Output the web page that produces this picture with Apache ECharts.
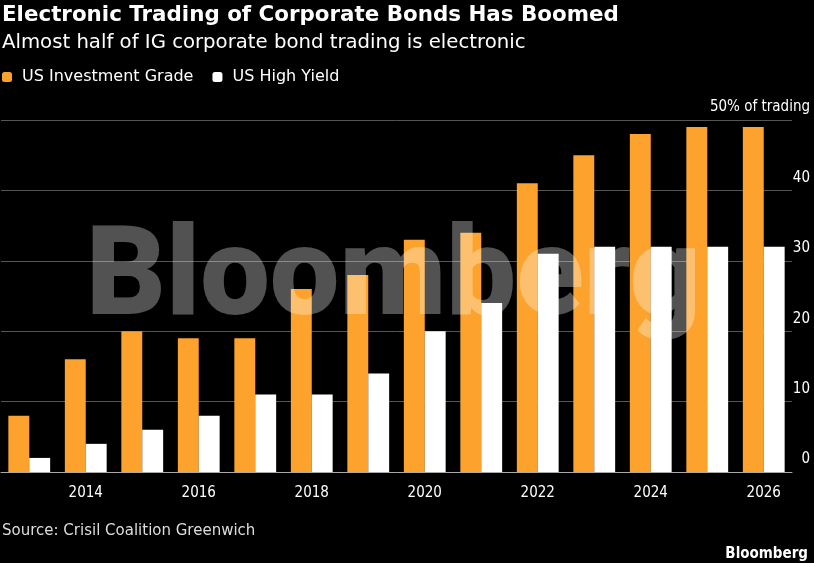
<!DOCTYPE html>
<html>
<head>
<meta charset="utf-8">
<script src="https://cdn.jsdelivr.net/npm/echarts@6/dist/echarts.min.js"></script>
<style>
  html, body { margin: 0; padding: 0; background: #000; }
  #chart { width: 814px; height: 563px; }
</style>
</head>
<body>
<div id="chart"></div>
<script>
// years on the x axis
const years = ['2013', '2014', '2015', '2016', '2017', '2018', '2019', '2020', '2021', '2022', '2023', '2024', '2025', '2026']
// share of trading that is electronic, %
const igData = [8, 16, 20, 19, 19, 26, 28, 33, 34, 41, 45, 48, 49, 49]
const hyData = [2, 4, 6, 8, 11, 11, 14, 20, 24, 31, 32, 32, 32, 32]
const yTicks = [0, 10, 20, 30, 40, 50]

const FONT = '"DejaVu Sans", "Noto Sans", sans-serif'
const FONT_NARROW = '"DejaVu Sans Condensed", "DejaVu Sans", sans-serif'
const chart = echarts.init(document.getElementById('chart'))

const option = {
  backgroundColor: '#000',
  animation: false,
  textStyle: { fontFamily: FONT },
  title: [
    {
      text: 'Electronic Trading of Corporate Bonds Has Boomed',
      left: 2, top: 5, padding: 0,
      textStyle: { color: '#fff', fontSize: 21.4, fontWeight: 'bold', fontFamily: FONT }
    },
    {
      text: 'Almost half of IG corporate bond trading is electronic',
      left: 2, top: 33, padding: 0,
      textStyle: { color: '#fff', fontSize: 19.7, fontWeight: 'normal', fontFamily: FONT }
    },
    {
      text: 'Source: Crisil Coalition Greenwich',
      left: 2, top: 524, padding: 0,
      textStyle: { color: '#ddd', fontSize: 15, fontWeight: 'normal', fontFamily: FONT }
    },
    {
      text: 'Bloomberg',
      right: 1, top: 542,
      textStyle: { color: '#fff', fontSize: 15, fontWeight: 'bold', fontFamily: FONT_NARROW }
    }
  ],
  legend: {
    left: 2, top: 69, padding: 0,
    itemWidth: 10, itemHeight: 10, itemGap: 19,
    icon: 'roundRect',
    textStyle: { color: '#fff', fontSize: 16, fontFamily: FONT, padding: [0, 0, 0, 5] },
    data: ['US Investment Grade', 'US High Yield']
  },
  grid: { left: 1, right: 22, top: 120, bottom: 91 },
  xAxis: {
    type: 'category',
    data: years,
    axisLine: { lineStyle: { color: '#aaa', width: 1 } },
    axisTick: { alignWithLabel: true, interval: 0, length: 5, lineStyle: { color: '#aaa' } },
    axisLabel: {
      color: '#fff', fontSize: 15, margin: 14, fontFamily: FONT_NARROW,
      interval: (i) => i % 2 === 1
    }
  },
  yAxis: {
    type: 'value',
    position: 'right',
    min: yTicks[0], max: yTicks[yTicks.length - 1], interval: 10,
    axisLine: { show: false },
    axisTick: { show: false },
    splitLine: { lineStyle: { color: '#555', width: 1 } },
    axisLabel: {
      color: '#fff', fontSize: 15, fontFamily: FONT_NARROW,
      align: 'right', verticalAlign: 'bottom', margin: 18,
      padding: [0, 0, 5, 0],
      formatter: (v) => v === 50 ? '50% of trading' : String(v)
    }
  },
  series: [
    {
      name: 'US Investment Grade',
      type: 'bar',
      data: igData,
      itemStyle: { color: '#fda22c' },
      barGap: '0%',
      barCategoryGap: '26%'
    },
    {
      name: 'US High Yield',
      type: 'bar',
      data: hyData,
      itemStyle: { color: '#ffffff' }
    }
  ],
  graphic: [
    {
      // watermark
      type: 'text',
      z: 100,
      x: 86, y: 221,
      silent: true,
      style: {
        text: 'Bloomberg',
        fill: 'rgba(255,255,255,0.32)',
        font: '900 124px Roboto, "DejaVu Sans"'
      }
    }
  ]
}

chart.setOption(option)
</script>
</body>
</html>
